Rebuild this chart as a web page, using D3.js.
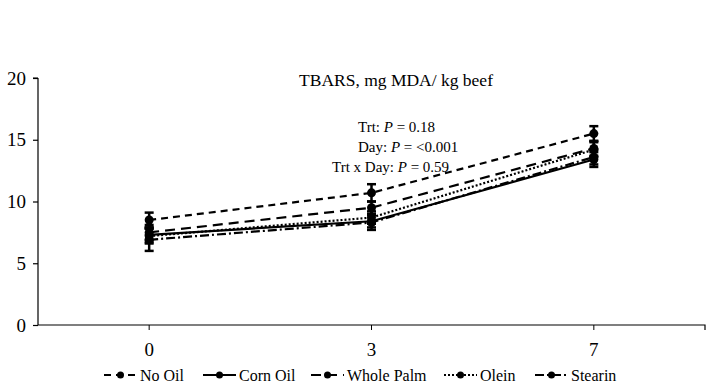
<!DOCTYPE html>
<html>
<head>
<meta charset="utf-8">
<script src="https://cdn.jsdelivr.net/npm/d3@7"></script>
<style>
  body { margin: 0; background: #fff; }
</style>
</head>
<body>
<script>
let width = 720;
let height = 388;
let serif = "'Liberation Serif', 'Times New Roman', 'DejaVu Serif', serif";

// data
let days = ["0", "3", "7"];
let seriesNames = ["No Oil", "Corn Oil", "Whole Palm", "Olein", "Stearin"];
let noOil = [8.5, 10.7, 15.5];
let cornOil = [7.3, 8.4, 13.4];
let wholePalm = [7.5, 9.5, 14.3];
let olein = [7.2, 8.7, 14.2];
let stearin = [6.9, 8.3, 13.6];
let noOilErr = [0.6, 0.7, 0.6];
let cornOilErr = [0.6, 0.5, 0.6];
let wholePalmErr = [0.6, 0.5, 0.6];
let oleinErr = [0.6, 0.5, 0.6];
let stearinErr = [0.9, 0.6, 0.6];
let yTicks = [0, 5, 10, 15, 20];

let series = [
  { name: seriesNames[0], values: noOil, err: noOilErr, dash: "7,5" },
  { name: seriesNames[1], values: cornOil, err: cornOilErr, dash: null },
  { name: seriesNames[2], values: wholePalm, err: wholePalmErr, dash: "10,6" },
  { name: seriesNames[3], values: olein, err: oleinErr, dash: "2,2" },
  { name: seriesNames[4], values: stearin, err: stearinErr, dash: "9,3,2,3" }
];

let svg = d3.select("body")
            .append("svg")
            .attr("width", width)
            .attr("height", height)
            .attr("font-family", serif)
            .style("background", "#fff");

let x = d3.scaleBand().domain(days).range([38, 705]).padding(0);
let y = d3.scaleLinear().domain([0, 20]).range([325, 78]);
let cx = d => x(d) + x.bandwidth() / 2;

// y axis
let yAxis = svg.append("g")
   .attr("transform", "translate(38,0)")
   .call(d3.axisLeft(y).tickValues(yTicks).tickSize(5).tickPadding(7));
yAxis.attr("font-family", serif).attr("font-size", 19);
yAxis.selectAll("text").attr("fill", "#000");
yAxis.selectAll("line, path").attr("stroke", "#000").attr("stroke-width", 1.2);
yAxis.select(".domain").attr("d", "M0," + y(20) + "H-5M0," + y(20) + "V" + y(0));

// x axis
let xAxis = svg.append("g")
   .attr("transform", "translate(0,325)")
   .call(d3.axisBottom(x).tickSize(5).tickPadding(13));
xAxis.attr("font-family", serif).attr("font-size", 19);
xAxis.selectAll("text").attr("fill", "#000");
xAxis.selectAll("line").attr("stroke", "#000").attr("stroke-width", 1);
xAxis.select(".domain").attr("stroke", "#000").attr("stroke-width", 1.2)
     .attr("d", "M38,0H705V5");

// lines
let line = d3.line()
  .x((v, i) => cx(days[i]))
  .y(v => y(v));

let plot = svg.append("g");

series.forEach(s => {
  plot.append("path")
    .attr("d", line(s.values))
    .attr("fill", "none")
    .attr("stroke", "#000")
    .attr("stroke-width", 2.2)
    .attr("stroke-dasharray", s.dash);
});

// error bars and markers
series.forEach(s => {
  let g = plot.append("g");
  s.values.forEach((v, i) => {
    let px = cx(days[i]);
    g.append("line")
      .attr("x1", px).attr("x2", px)
      .attr("y1", y(v - s.err[i])).attr("y2", y(v + s.err[i]))
      .attr("stroke", "#000").attr("stroke-width", 2.5);
    [v - s.err[i], v + s.err[i]].forEach(e => {
      g.append("line")
        .attr("x1", px - 4.5).attr("x2", px + 4.5)
        .attr("y1", y(e)).attr("y2", y(e))
        .attr("stroke", "#000").attr("stroke-width", 2.5);
    });
    g.append("circle")
      .attr("cx", px).attr("cy", y(v)).attr("r", 4.5)
      .attr("fill", "#000");
  });
});

// title and stats
svg.append("text")
   .attr("x", 396).attr("y", 86)
   .attr("text-anchor", "middle")
   .attr("font-family", serif)
   .attr("font-size", 17.5)
   .text("TBARS, mg MDA/ kg beef");

let stats = [
  { pre: "Trt: ", post: " = 0.18", x: 358, y: 132 },
  { pre: "Day: ", post: " = <0.001", x: 358, y: 152 },
  { pre: "Trt x Day: ", post: " = 0.59", x: 332, y: 172 }
];
stats.forEach(st => {
  let t = svg.append("text")
    .attr("x", st.x).attr("y", st.y)
    .attr("font-family", serif)
    .attr("font-size", 15);
  t.append("tspan").text(st.pre);
  t.append("tspan").attr("font-style", "italic").text("P");
  t.append("tspan").text(st.post);
});

// legend
let legendX = [104, 203, 311, 444, 535];
let legend = svg.append("g")
  .selectAll(".legend")
  .data(series)
  .enter()
  .append("g")
  .classed("legend", true)
  .attr("transform", (d, i) => "translate(" + legendX[i] + ",375)");

legend.append("line")
  .attr("x1", 0).attr("x2", 33)
  .attr("y1", 0).attr("y2", 0)
  .attr("stroke", "#000")
  .attr("stroke-width", 2)
  .attr("stroke-dasharray", d => d.dash);

legend.append("circle")
  .attr("cx", 16.5).attr("cy", 0).attr("r", 3.5)
  .attr("fill", "#000");

legend.append("text")
  .attr("x", 36)
  .attr("y", 5.5)
  .attr("font-family", serif)
  .attr("font-size", 16)
  .text(d => d.name);
</script>
</body>
</html>
